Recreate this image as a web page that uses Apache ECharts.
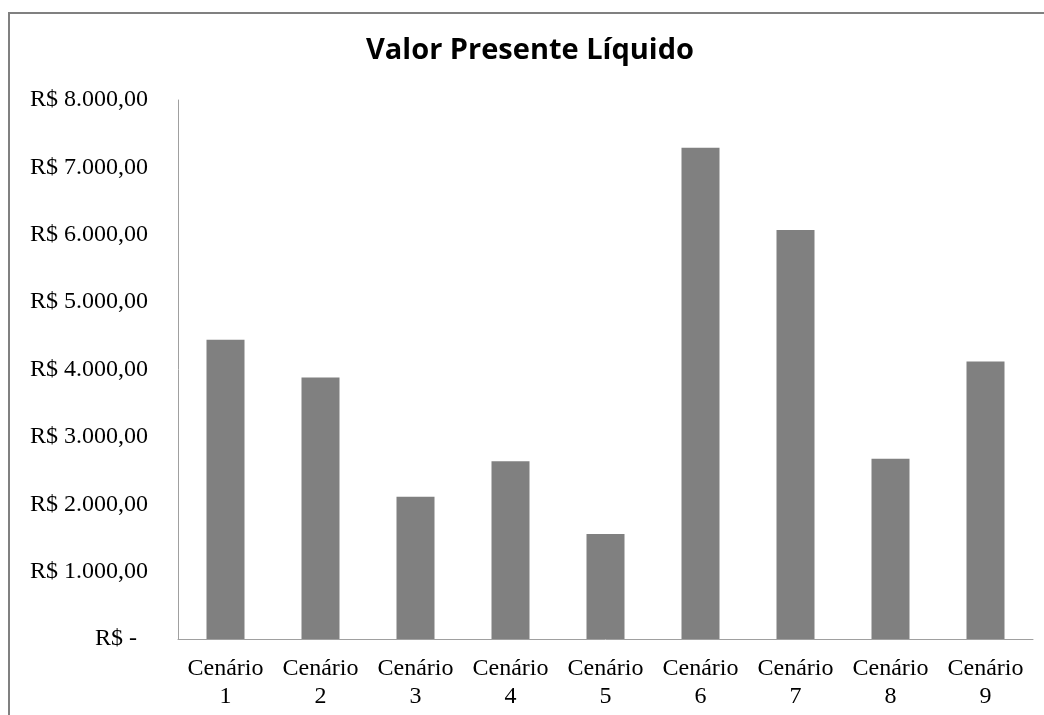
<!DOCTYPE html>
<html>
<head>
<meta charset="utf-8">
<script src="https://cdn.jsdelivr.net/npm/echarts@6/dist/echarts.min.js"></script>
<style>html,body{margin:0;padding:0;background:#fff}#c{width:1044px;height:715px}</style>
</head>
<body>
<div id="c"></div>
<script>
const categories = ['Cenário\n1','Cenário\n2','Cenário\n3','Cenário\n4','Cenário\n5','Cenário\n6','Cenário\n7','Cenário\n8','Cenário\n9'];
const values = [4440, 3880, 2110, 2640, 1560, 7290, 6070, 2675, 4120];
const yTicks = [0, 1000, 2000, 3000, 4000, 5000, 6000, 7000, 8000];

function fmt(v){
  if (v === 0) return '{z|R$ -}';
  const s = Math.round(v).toString().replace(/\B(?=(\d{3})+(?!\d))/g, '.');
  return 'R$ ' + s + ',00';
}

const chart = echarts.init(document.getElementById('c'));
chart.setOption({
  animation: false,
  backgroundColor: '#fff',
  graphic: [{
    type: 'rect', z: -1, silent: true,
    shape: {x: 9, y: 13, width: 1070, height: 730},
    style: {fill: 'none', stroke: '#808080', lineWidth: 2}
  }],
  title: {
    text: 'Valor Presente Líquido',
    left: 525, top: 31, textAlign: 'center',
    textStyle: {fontFamily: 'Open Sans', fontWeight: 'bold', fontSize: 29, color: '#000'}
  },
  grid: {left: 178, right: 11, top: 100, bottom: 76, containLabel: false},
  xAxis: {
    type: 'category',
    data: categories,
    axisLine: {lineStyle: {color: '#a0a0a0', width: 1}},
    axisTick: {show: false},
    axisLabel: {
      interval: 0, margin: 16,
      fontFamily: 'Liberation Serif', fontSize: 24, color: '#000', lineHeight: 28
    }
  },
  yAxis: {
    type: 'value', min: 0, max: 8000, interval: 1000,
    axisLine: {show: true, lineStyle: {color: '#a0a0a0', width: 1}},
    axisTick: {show: false},
    splitLine: {show: false},
    axisLabel: {
      margin: 30,
      fontFamily: 'Liberation Serif', fontSize: 24, color: '#000',
      formatter: fmt,
      rich: {z: {fontFamily: 'Liberation Serif', fontSize: 24, color: '#000', padding: [0, 11, 0, 0]}}
    }
  },
  series: [{
    type: 'bar',
    data: values,
    barWidth: 38,
    itemStyle: {color: '#808080'}
  }]
});
</script>
</body>
</html>
